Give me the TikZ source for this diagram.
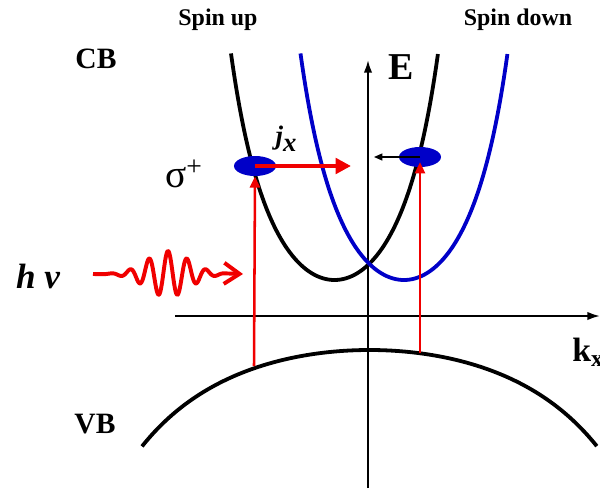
\documentclass[tikz,border=0pt]{standalone}
\usepackage{fontspec}
\setmainfont{Liberation Serif}
\usetikzlibrary{arrows.meta, shapes.geometric}
\definecolor{bandblue}{RGB}{0,0,200}
\definecolor{photonred}{RGB}{240,0,0}

\begin{document}
\begin{tikzpicture}[
    x=0.025cm, y=-0.025cm,
    band/.style={line width=2.7pt, line join=round},
    axis/.style={line width=1.4pt, -{Latex[length=9pt, width=6pt]}},
    spinlabel/.style={font=\fontsize{17}{19}\selectfont\bfseries, inner sep=0pt},
    bandlabel/.style={font=\fontsize{21}{23}\selectfont\bfseries, inner sep=0pt},
    carrier/.style={ellipse, fill=bandblue, minimum width=1.05cm, minimum height=0.5cm, inner sep=0pt},
    excite/.style={photonred, line width=1.8pt, -{Triangle[length=8pt, width=7pt]}},
    current/.style={photonred, line width=2.9pt, -{Triangle[length=11pt, width=11pt]}},
    drift/.style={line width=0.9pt, -{Triangle[length=6pt, width=5pt]}},
    photon/.style={photonred, line width=2.8pt, line join=round, -{Straight Barb[length=11pt, width=15pt]}}
]
    \useasboundingbox (0,0) rectangle (600,488);

    % axes
    \coordinate (ebottom) at (368,488);
    \coordinate (etop) at (368,60);
    \coordinate (kleft) at (175,316);
    \coordinate (kright) at (600,316);
    \draw[axis] (ebottom) -- (etop);
    \draw[axis] (kleft) -- (kright);

    % conduction band, spin up (black) and spin down (blue)
    \foreach \vx/\col in {334.5/black, 404/bandblue} {
        \draw[band, \col] plot[domain=-1:1, samples=120]
            ({\vx+103.5*\x}, {280 - 137.4*\x*\x/(1-0.3935*\x*\x)});
    }

    % valence band
    \draw[band] plot[domain=-1:1, samples=120]
        ({369.5+227.5*\x}, {350 + 65.2*\x*\x/(1-0.3235*\x*\x)});

    % carriers
    \node[carrier] (dotup) at (255,166) {};
    \node[carrier] (dotdown) at (420,157) {};

    \coordinate (vbleft) at (254,366);
    \coordinate (vbright) at (420,353);
    \coordinate (jxend) at (351,166);
    \coordinate (driftend) at (374,157);
    \draw[excite] (vbleft) -- (dotup.south);
    \draw[excite] (vbright) -- (420,162);
    \draw[current] (dotup.center) -- (jxend);
    \draw[drift] (dotdown.center) -- (driftend);

    % photon
    \coordinate (wavestart) at (93,274);
    \coordinate (wavetip) at (243,274);
    \draw[photon] (wavestart) -- plot[domain=100:225, samples=200]
        (\x, {274 - 23*exp(-((\x-168)/30)*((\x-168)/30))*cos(18.947*(\x-168))}) -- (wavetip);

    % labels
    \node[spinlabel] (spinup) at (218,20) {Spin up};
    \node[spinlabel] (spindown) at (518,20) {Spin down};
    \node[bandlabel] (cb) at (96,59) {CB};
    \node[bandlabel] (vb) at (95,424) {VB};
    \node[font=\fontsize{27}{29}\selectfont\bfseries, inner sep=0pt] (elabel) at (401,67) {E};
    \node[font=\fontsize{24}{26}\selectfont\bfseries, inner sep=0pt, anchor=west] (klabel) at (572,352) {k\textsubscript{x}};
    \node[font=\fontsize{19}{21}\selectfont\bfseries\itshape, inner sep=0pt] (jx) at (286,139) {j\raisebox{-0.25em}{x}};
    \node[font=\fontsize{28}{30}\selectfont, inner sep=0pt] (sigma) at (184,174) {σ\textsuperscript{+}};
    \node[font=\fontsize{25}{27}\selectfont\bfseries\itshape, inner sep=0pt] (hnu) at (38,276) {h ν};
\end{tikzpicture}
\end{document}
